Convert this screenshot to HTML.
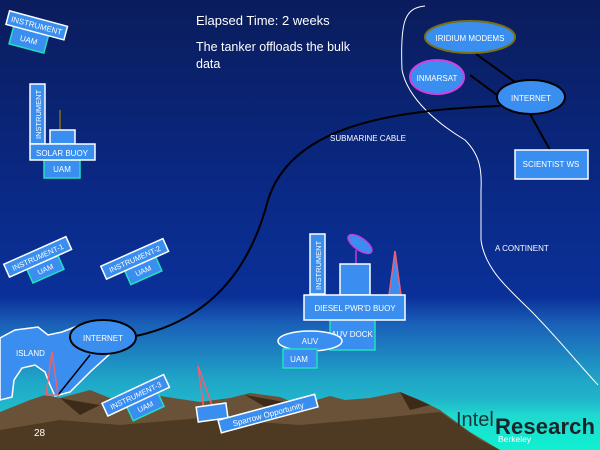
<!DOCTYPE html>
<html><head><meta charset="utf-8"><style>
html,body{margin:0;padding:0;width:600px;height:450px;overflow:hidden;background:#0a2070}
svg{display:block}
text{font-family:"Liberation Sans",sans-serif;fill:#fff}
</style></head><body>
<svg width="600" height="450" viewBox="0 0 600 450" xmlns="http://www.w3.org/2000/svg">
<defs>
<linearGradient id="bg" x1="0" y1="0" x2="0" y2="1">
<stop offset="0" stop-color="#0a1c5c"/>
<stop offset="0.45" stop-color="#0a2a88"/>
<stop offset="0.66" stop-color="#0a3098"/>
<stop offset="0.72" stop-color="#1a60b8"/>
<stop offset="0.85" stop-color="#20a8c8"/>
<stop offset="1" stop-color="#20d8d0"/>
</linearGradient>
<linearGradient id="tl" x1="0" y1="0" x2="0" y2="1">
<stop offset="0" stop-color="#20b8c8" stop-opacity="0"/>
<stop offset="0.35" stop-color="#20d8d0"/>
<stop offset="1" stop-color="#10f0d0"/>
</linearGradient>
</defs>
<rect width="600" height="450" fill="url(#bg)"/>
<rect x="380" y="395" width="220" height="55" fill="url(#tl)"/>
<!-- mountains -->
<polygon points="0,412 30,400 45,395 60,398 90,390 110,398 130,400 160,396 200,402 230,398 250,393 280,397 300,405 330,396 345,400 370,398 400,392 420,400 440,410 470,432 500,450 0,450" fill="#6a5238"/>
<polygon points="0,430 60,420 120,425 200,418 300,425 380,418 440,412 480,440 500,450 0,450" fill="#4e3a22"/>
<polygon points="60,398 80,415 100,405 70,400" fill="#3e2a18"/>
<polygon points="245,395 270,410 290,403" fill="#3e2a18"/>
<polygon points="400,392 410,410 430,405" fill="#3e2a18"/>
<!-- coastline -->
<path d="M425,6 C405,8 400,20 402,70 C408,100 440,125 465,140 C480,155 482,170 481,190 L481,240 C485,270 510,290 530,310 C555,335 575,360 598,385" fill="none" stroke="#fff" stroke-width="1"/>
<!-- cable -->
<path d="M136,336 C210,320 250,270 268,200 C290,130 380,110 500,106" fill="none" stroke="#000" stroke-width="2"/>
<text x="330" y="141" font-size="8">SUBMARINE CABLE</text>
<text x="495" y="251" font-size="8">A CONTINENT</text>
<!-- title -->
<text x="196" y="25" font-size="13">Elapsed Time:  2 weeks</text>
<text x="196" y="51" font-size="12.5">The tanker offloads the bulk</text>
<text x="196" y="68" font-size="12.5">data</text>
<!-- top right network -->
<line x1="476" y1="54" x2="515" y2="82" stroke="#000" stroke-width="2"/>
<line x1="470" y1="75" x2="497" y2="95" stroke="#000" stroke-width="2"/>
<line x1="530" y1="114" x2="550" y2="150" stroke="#000" stroke-width="2"/>
<ellipse cx="470" cy="37" rx="45" ry="16" fill="#3a8ef0" stroke="#7a7010" stroke-width="2"/>
<text x="470" y="41" font-size="8" text-anchor="middle">IRIDIUM MODEMS</text>
<ellipse cx="437" cy="77" rx="27" ry="17" fill="#3a8ef0" stroke="#d040e0" stroke-width="2"/>
<text x="437" y="81" font-size="8" text-anchor="middle">INMARSAT</text>
<ellipse cx="531" cy="97" rx="34" ry="17" fill="#3a8ef0" stroke="#000" stroke-width="2"/>
<text x="531" y="101" font-size="8" text-anchor="middle">INTERNET</text>
<rect x="515" y="150" width="73" height="29" fill="#3a8ef0" stroke="#fff" stroke-width="1.5"/>
<text x="551" y="167" font-size="8" text-anchor="middle">SCIENTIST WS</text>
<!-- top left instrument -->
<g transform="rotate(15 35 28)">
<rect x="14" y="30" width="36" height="20" fill="#3a8ef0" stroke="#20e0c0" stroke-width="1.5"/>
<text x="32" y="44" font-size="8" text-anchor="middle">UAM</text>
<rect x="6" y="18" width="60" height="14" fill="#3a8ef0" stroke="#fff" stroke-width="1.5"/>
<text x="36" y="28" font-size="8" text-anchor="middle">INSTRUMENT</text>
</g>
<!-- solar buoy -->
<rect x="44" y="160" width="36" height="18" fill="#3a8ef0" stroke="#20e0c0" stroke-width="1.5"/>
<text x="62" y="172" font-size="8" text-anchor="middle">UAM</text>
<rect x="30" y="84" width="15" height="60" fill="#3a8ef0" stroke="#fff" stroke-width="1.5"/>
<text transform="translate(41,139) rotate(-90)" font-size="7.5">INSTRUMENT</text>
<line x1="60" y1="110" x2="60" y2="130" stroke="#807010" stroke-width="1.5"/>
<rect x="50" y="130" width="25" height="14" fill="#3a8ef0" stroke="#fff" stroke-width="1.5"/>
<rect x="30" y="144" width="65" height="16" fill="#3a8ef0" stroke="#fff" stroke-width="1.5"/>
<text x="62" y="156" font-size="8" text-anchor="middle">SOLAR BUOY</text>
<!-- instrument 1, 2 -->
<g transform="rotate(-24 38 260)">
<rect x="24" y="262" width="34" height="17" fill="#3a8ef0" stroke="#20e0c0" stroke-width="1.5"/>
<text x="41" y="274" font-size="7.5" text-anchor="middle">UAM</text>
<rect x="5" y="250" width="68" height="14" fill="#3a8ef0" stroke="#fff" stroke-width="1.5"/>
<text x="39" y="260" font-size="7.5" text-anchor="middle">INSTRUMENT-1</text>
</g>
<g transform="rotate(-24 135 262)">
<rect x="122" y="264" width="34" height="17" fill="#3a8ef0" stroke="#20e0c0" stroke-width="1.5"/>
<text x="139" y="276" font-size="7.5" text-anchor="middle">UAM</text>
<rect x="102" y="252" width="68" height="14" fill="#3a8ef0" stroke="#fff" stroke-width="1.5"/>
<text x="136" y="262" font-size="7.5" text-anchor="middle">INSTRUMENT-2</text>
</g>
<!-- diesel buoy -->
<rect x="330" y="318" width="45" height="32" fill="#3a8ef0" stroke="#20e0c0" stroke-width="1.5"/>
<text x="352" y="337" font-size="8" text-anchor="middle">AUV DOCK</text>
<rect x="310" y="234" width="15" height="60" fill="#3a8ef0" stroke="#fff" stroke-width="1.5"/>
<text transform="translate(321,290) rotate(-90)" font-size="7.5">INSTRUMENT</text>
<line x1="356" y1="250" x2="356" y2="265" stroke="#c040e0" stroke-width="1.5"/>
<ellipse cx="360" cy="244" rx="14" ry="6" transform="rotate(35 360 244)" fill="#3a8ef0" stroke="#c040e0" stroke-width="1.5"/>
<rect x="340" y="264" width="30" height="31" fill="#3a8ef0" stroke="#fff" stroke-width="1.5"/>
<polygon points="395,251 389,295 401,295" fill="#3a8ef0" stroke="#f06070" stroke-width="1.5"/>
<rect x="304" y="295" width="101" height="25" fill="#3a8ef0" stroke="#fff" stroke-width="1.5"/>
<text x="355" y="311" font-size="8" text-anchor="middle">DIESEL PWR'D BUOY</text>
<ellipse cx="310" cy="341" rx="32" ry="10" fill="#3a8ef0" stroke="#fff" stroke-width="1.5"/>
<text x="310" y="344" font-size="8" text-anchor="middle">AUV</text>
<rect x="283" y="349" width="34" height="19" fill="#3a8ef0" stroke="#20e0c0" stroke-width="1.5"/>
<text x="299" y="362" font-size="8" text-anchor="middle">UAM</text>
<!-- island -->
<polygon points="0,338 15,330 38,327 48,335 62,332 80,325 95,332 112,352 90,372 70,392 55,396 50,385 45,372 35,365 22,368 14,380 12,397 0,400" fill="#3a8ef0" stroke="#fff" stroke-width="1.5"/>
<text x="16" y="356" font-size="8">ISLAND</text>
<line x1="90" y1="355" x2="58" y2="395" stroke="#000" stroke-width="1.5"/>
<polygon points="52,352 46,395 58,395" fill="none" stroke="#f06070" stroke-width="1.5"/>
<ellipse cx="103" cy="337" rx="33" ry="17" fill="#3a8ef0" stroke="#000" stroke-width="2"/>
<text x="103" y="341" font-size="8" text-anchor="middle">INTERNET</text>
<!-- instrument 3 -->
<g transform="rotate(-25 137 398)">
<rect x="124" y="400" width="34" height="17" fill="#3a8ef0" stroke="#20e0c0" stroke-width="1.5"/>
<text x="141" y="412" font-size="7.5" text-anchor="middle">UAM</text>
<rect x="103" y="388" width="68" height="14" fill="#3a8ef0" stroke="#fff" stroke-width="1.5"/>
<text x="137" y="398" font-size="7.5" text-anchor="middle">INSTRUMENT-3</text>
</g>
<!-- sparrow -->
<polygon points="198,366 204,410 213,408" fill="none" stroke="#f06070" stroke-width="1.5"/>
<rect x="197" y="405" width="30" height="15" fill="#3a8ef0" stroke="#fff" stroke-width="1.5" transform="rotate(-8 212 412)"/>
<g transform="rotate(-15 272 413)">
<rect x="218" y="406" width="100" height="13" fill="#3a8ef0" stroke="#fff" stroke-width="1.5"/>
<text x="268" y="416" font-size="8" text-anchor="middle">Sparrow Opportunity</text>
</g>
<text x="34" y="436" font-size="10">28</text>
<text x="456" y="426" font-size="20" style="fill:#1a3438">Intel</text>
<text x="495" y="434" font-size="22" font-weight="bold" textLength="100" style="fill:#1a2428">Research</text>
<text x="498" y="442" font-size="8.5">Berkeley</text>
</svg>
</body></html>
